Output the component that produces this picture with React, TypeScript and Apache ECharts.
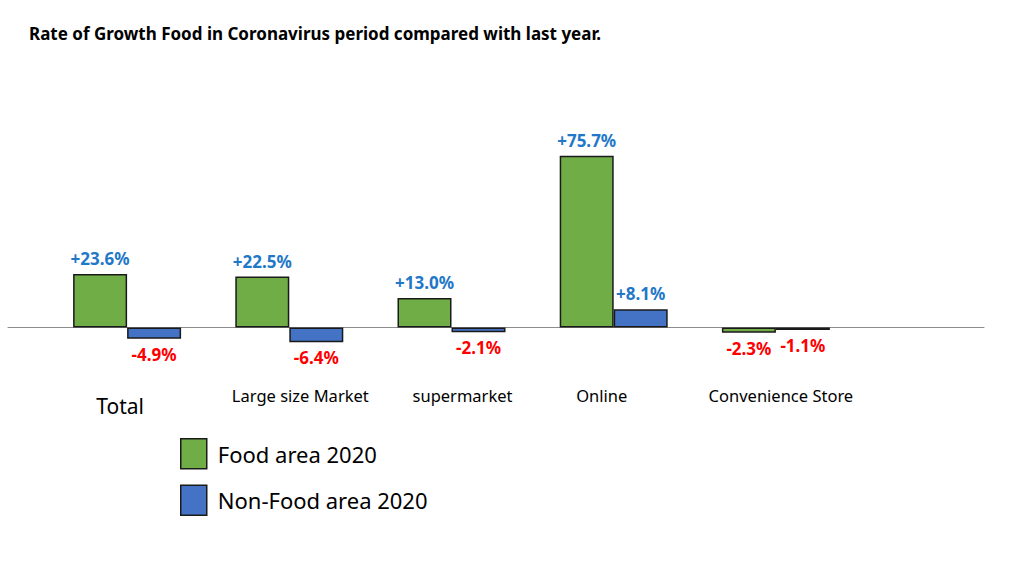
import { useRef, useEffect } from 'react'
import * as echarts from 'echarts'

const CATEGORIES = ['Total', 'Large size Market', 'supermarket', 'Online', 'Convenience Store']
const FOOD_2020 = [23.6, 22.5, 13.0, 75.7, -2.3]
const NON_FOOD_2020 = [-4.9, -6.4, -2.1, 8.1, -1.1]
const SERIES_NAMES = ['Food area 2020', 'Non-Food area 2020']

const GREEN = '#70ad47'
const BLUE = '#4472c4'
const POS_TEXT = '#1f78c8'
const NEG_TEXT = '#ff0000'
const FONT = '"Noto Sans", "Open Sans", sans-serif'

// label keys per category, each rich style nudges its label a little
const CAT_STYLE = ['total', 'large', 'super', 'online', 'conv']

function toItems(values: number[]) {
  return values.map((v) => ({
    value: v,
    label: {
      color: v >= 0 ? POS_TEXT : NEG_TEXT,
      position: v >= 0 ? 'top' : 'bottom',
    },
  }))
}

export default function App() {
  const chartRef = useRef<HTMLDivElement>(null)

  useEffect(() => {
    if (!chartRef.current) return
    const chart = echarts.init(chartRef.current, undefined, { renderer: 'svg' })

    const barLabel = {
      show: true,
      distance: 7,
      fontFamily: FONT,
      fontSize: 17,
      fontWeight: 'bold' as const,
      formatter: (p: { value: number }) => `${p.value >= 0 ? '+' : ''}${p.value.toFixed(1)}%`,
    }

    const catText = { fontFamily: FONT, fontSize: 16.5, color: '#000' }

    const option: echarts.EChartsOption = {
      animation: false,
      backgroundColor: '#fff',
      title: {
        text: 'Rate of Growth Food in Coronavirus period compared with last year.',
        left: 24,
        top: 20,
        textStyle: { fontFamily: FONT, fontSize: 17, fontWeight: 'bold', color: '#000' },
      },
      legend: {
        data: SERIES_NAMES,
        orient: 'vertical',
        left: 180,
        top: 438,
        padding: 0,
        itemWidth: 26,
        itemHeight: 30,
        itemGap: 15,
        icon: 'rect',
        itemStyle: { borderColor: '#1a1a1a', borderWidth: 1.5 },
        textStyle: { fontFamily: FONT, fontSize: 22, color: '#000', padding: [0, 0, 0, 6] },
      },
      grid: [
        { left: 46, right: 167, top: 146, bottom: 191 },
        { left: 8, right: 40, top: 146, bottom: 191 },
      ],
      xAxis: [
        {
          type: 'category',
          gridIndex: 0,
          data: CATEGORIES,
          axisLine: { show: false, onZero: false },
          axisTick: { show: false },
          axisLabel: {
            margin: 14,
            interval: 0,
            formatter: (v: string) => `{${CAT_STYLE[CATEGORIES.indexOf(v)]}|${v}}`,
            rich: {
              total: { ...catText, fontSize: 21, padding: [8, 14, 0, 0] },
              large: { ...catText, padding: [0, 0, 0, 22] },
              super: { ...catText, padding: [0, 0, 0, 22] },
              online: { ...catText, padding: [0, 24, 0, 0] },
              conv: { ...catText, padding: [0, 0, 0, 10] },
            },
          },
        },
        {
          type: 'value',
          gridIndex: 1,
          min: 0,
          max: 1,
          axisLine: { show: true, onZero: true, lineStyle: { color: '#8c8c8c', width: 1 } },
          axisTick: { show: false },
          axisLabel: { show: false },
          splitLine: { show: false },
        },
      ],
      yAxis: [
        {
          type: 'value',
          gridIndex: 0,
          min: -20,
          max: 80,
          show: false,
        },
        {
          type: 'value',
          gridIndex: 1,
          min: -20,
          max: 80,
          axisLine: { show: false },
          axisTick: { show: false },
          axisLabel: { show: false },
          splitLine: { show: false },
        },
      ],
      series: [
        {
          name: SERIES_NAMES[0],
          type: 'bar',
          xAxisIndex: 0,
          yAxisIndex: 0,
          data: toItems(FOOD_2020),
          barWidth: 54,
          barGap: '0%',
          itemStyle: { color: GREEN, borderColor: '#1a1a1a', borderWidth: 1.5 },
          label: barLabel,
        } as echarts.SeriesOption,
        {
          name: SERIES_NAMES[1],
          type: 'bar',
          xAxisIndex: 0,
          yAxisIndex: 0,
          data: toItems(NON_FOOD_2020),
          barWidth: 54,
          barGap: '0%',
          itemStyle: { color: BLUE, borderColor: '#1a1a1a', borderWidth: 1.5 },
          label: barLabel,
        } as echarts.SeriesOption,
      ],
    }

    chart.setOption(option)
    return () => {
      chart.dispose()
    }
  }, [])

  return (
    <div
      ref={chartRef}
      style={{ position: 'fixed', left: 0, top: 0, width: 1024, height: 564 }}
    />
  )
}
